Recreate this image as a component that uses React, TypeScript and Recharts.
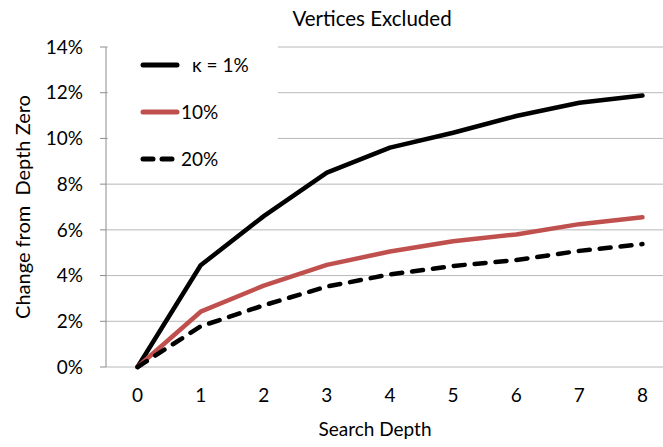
import React from 'react';
import { LineChart, Line, XAxis, YAxis, CartesianGrid, Legend } from 'recharts';

const depths = [0, 1, 2, 3, 4, 5, 6, 7, 8];
const kappa1 = [0, 4.45, 6.6, 8.5, 9.6, 10.25, 10.98, 11.56, 11.88];
const kappa10 = [0, 2.42, 3.56, 4.47, 5.05, 5.5, 5.8, 6.25, 6.55];
const kappa20 = [0, 1.78, 2.7, 3.52, 4.05, 4.42, 4.68, 5.08, 5.38];
const seriesNames = ['κ = 1%', '10%', '20%'];
const yTicks = [0, 2, 4, 6, 8, 10, 12, 14];
const edgeTicks = [-0.5, 0.5, 1.5, 2.5, 3.5, 4.5, 5.5, 6.5, 7.5, 8.5];
const title = 'Vertices Excluded';
const xTitle = 'Search Depth';
const yTitle = 'Change from\u00A0 Depth Zero';

const data = depths.map((d, i) => ({ depth: d, k1: kappa1[i], k10: kappa10[i], k20: kappa20[i] }));

const FONT = 'Lato, "Open Sans", sans-serif';
const AXIS = '#8c8c8c';
const GRID = '#b8b8b8';
const RED = '#c0504d';

const seriesStyle = [
  { key: 'k1', color: '#000000', dash: undefined as string | undefined },
  { key: 'k10', color: RED, dash: undefined as string | undefined },
  { key: 'k20', color: '#000000', dash: '11 10' },
];

const LegendContent = () => (
  <div style={{ display: 'flex', flexDirection: 'column', paddingTop: 1 }}>
    {seriesStyle.map((s, i) => (
      <div key={s.key} style={{ height: 47, display: 'flex', alignItems: 'center' }}>
        <svg width={40} height={10} style={{ marginLeft: 32, flex: 'none' }}>
          <line x1={3} y1={5} x2={37} y2={5} stroke={s.color} strokeWidth={5}
            strokeLinecap="round" strokeDasharray={s.dash ? '10 9' : undefined} />
        </svg>
        <span style={{ marginLeft: i === 0 ? 12 : 1, fontFamily: FONT, fontSize: 19, color: '#000', whiteSpace: 'pre' }}>
          {seriesNames[i]}
        </span>
      </div>
    ))}
  </div>
);

export default function App() {
  return (
    <div style={{ position: 'absolute', left: 0, top: 0, width: 663, height: 447, overflow: 'hidden', background: '#fff' }}>
      <div style={{ position: 'absolute', left: 0, top: 0 }}>
        <LineChart width={680} height={447} data={data} margin={{ top: 47, right: 6, bottom: 0, left: 0 }}>
          <CartesianGrid vertical={false} stroke={GRID} strokeWidth={1} xAxisId="cat" />
          <XAxis xAxisId="edges" type="number" dataKey="depth" domain={[-0.5, 8.5]} ticks={edgeTicks}
            tick={false} tickLine={{ stroke: AXIS }} axisLine={{ stroke: AXIS }} height={0} tickSize={6} interval={0} />
          <XAxis xAxisId="cat" type="number" dataKey="depth" domain={[-0.5, 8.5]} ticks={depths}
            tickLine={false} axisLine={false} height={80} tickSize={6} tickMargin={16} interval={0}
            tick={{ fontFamily: FONT, fontSize: 19, fill: '#000' }}
            label={{ value: xTitle, position: 'insideBottom', offset: 11, dx: -15, style: { fontFamily: FONT, fontSize: 19, fill: '#000' } }} />
          <YAxis type="number" domain={[0, 14]} ticks={yTicks} interval={0} width={106}
            tickFormatter={(v: number) => `${v}%`} tickSize={6} tickMargin={17}
            axisLine={{ stroke: AXIS }} tickLine={{ stroke: AXIS }}
            tick={{ fontFamily: FONT, fontSize: 19, fill: '#000' }} />
          <Legend layout="horizontal" verticalAlign="middle" align="center" content={<LegendContent />}
            wrapperStyle={{ left: 108, top: 40, width: 170, height: 140, background: '#fff' }} />
          {seriesStyle.map((s, i) => (
            <Line key={s.key} xAxisId="cat" type="linear" dataKey={s.key} name={seriesNames[i]}
              stroke={s.color} strokeWidth={4.5} strokeDasharray={s.dash}
              strokeLinecap="round" strokeLinejoin="round"
              dot={false} activeDot={false} isAnimationActive={false} />
          ))}
        </LineChart>
      </div>
      <div style={{ position: 'absolute', left: 0, top: 5, width: 744, textAlign: 'center', fontFamily: FONT, fontSize: 20.5, color: '#000', lineHeight: '26px' }}>
        {title}
      </div>
      <div style={{ position: 'absolute', left: 22, top: 207, width: 0, height: 0 }}>
        <div style={{ position: 'absolute', left: -150, top: -13, width: 300, height: 26, lineHeight: '26px', textAlign: 'center', transform: 'rotate(-90deg)', fontFamily: FONT, fontSize: 20, color: '#000', whiteSpace: 'pre' }}>
          {yTitle}
        </div>
      </div>
    </div>
  );
}
